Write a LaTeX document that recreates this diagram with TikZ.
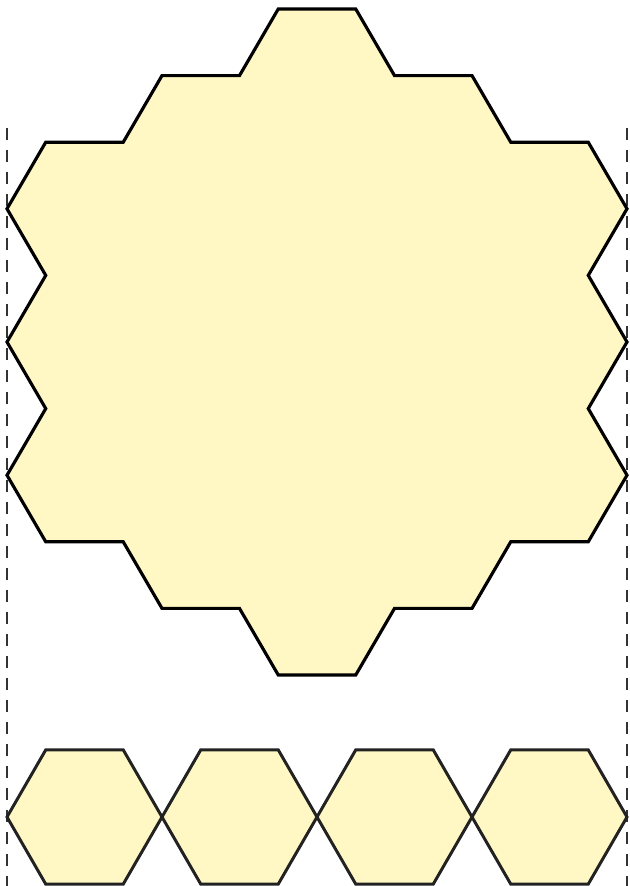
\documentclass[tikz,border=0pt]{standalone}
\usepackage{tikz}
\usetikzlibrary{shapes.geometric, positioning, calc}
\definecolor{hexyellow}{HTML}{FFF8C4}
\definecolor{hexline}{HTML}{222222}

\begin{document}
\begin{tikzpicture}[
    hexfill/.style={draw=black, fill=hexyellow, line width=1.8pt, line join=miter},
    hexcell/.style={regular polygon, regular polygon sides=6, minimum size=3.1cm, inner sep=0pt, outer sep=0pt, draw=hexline, fill=hexyellow, line width=1.7pt},
    guide/.style={draw=black!80, line width=0.7pt, dash pattern=on 0.24cm off 0.2cm}
]
\useasboundingbox (0,0) rectangle (12.58,17.72);
% side guides
\coordinate (guideLtop) at (0.14,15.16);
\coordinate (guideLbot) at (0.14,0);
\coordinate (guideRtop) at (12.54,15.16);
\coordinate (guideRbot) at (12.54,0);
\draw[guide] (guideLtop) -- (guideLbot);
\draw[guide] (guideRtop) -- (guideRbot);
% big patch of 19 hexagons, outline only (x in sides, y in half heights)
\begin{scope}[shift={(6.34,10.88)}, x=1.55cm, y=1.332cm]
\draw[hexfill] (-0.5,5) -- (0.5,5) -- (1,4) -- (2,4) -- (2.5,3) -- (3.5,3)
  -- (4,2) -- (3.5,1) -- (4,0) -- (3.5,-1) -- (4,-2) -- (3.5,-3)
  -- (2.5,-3) -- (2,-4) -- (1,-4) -- (0.5,-5) -- (-0.5,-5) -- (-1,-4)
  -- (-2,-4) -- (-2.5,-3) -- (-3.5,-3) -- (-4,-2) -- (-3.5,-1) -- (-4,0)
  -- (-3.5,1) -- (-4,2) -- (-3.5,3) -- (-2.5,3) -- (-2,4) -- (-1,4) -- cycle;
\end{scope}
% row of single hexagons
\foreach \i in {0,...,3}
  \node[hexcell] (cell\i) at ({1.69+3.1*\i},1.38) {};
\end{tikzpicture}
\end{document}
